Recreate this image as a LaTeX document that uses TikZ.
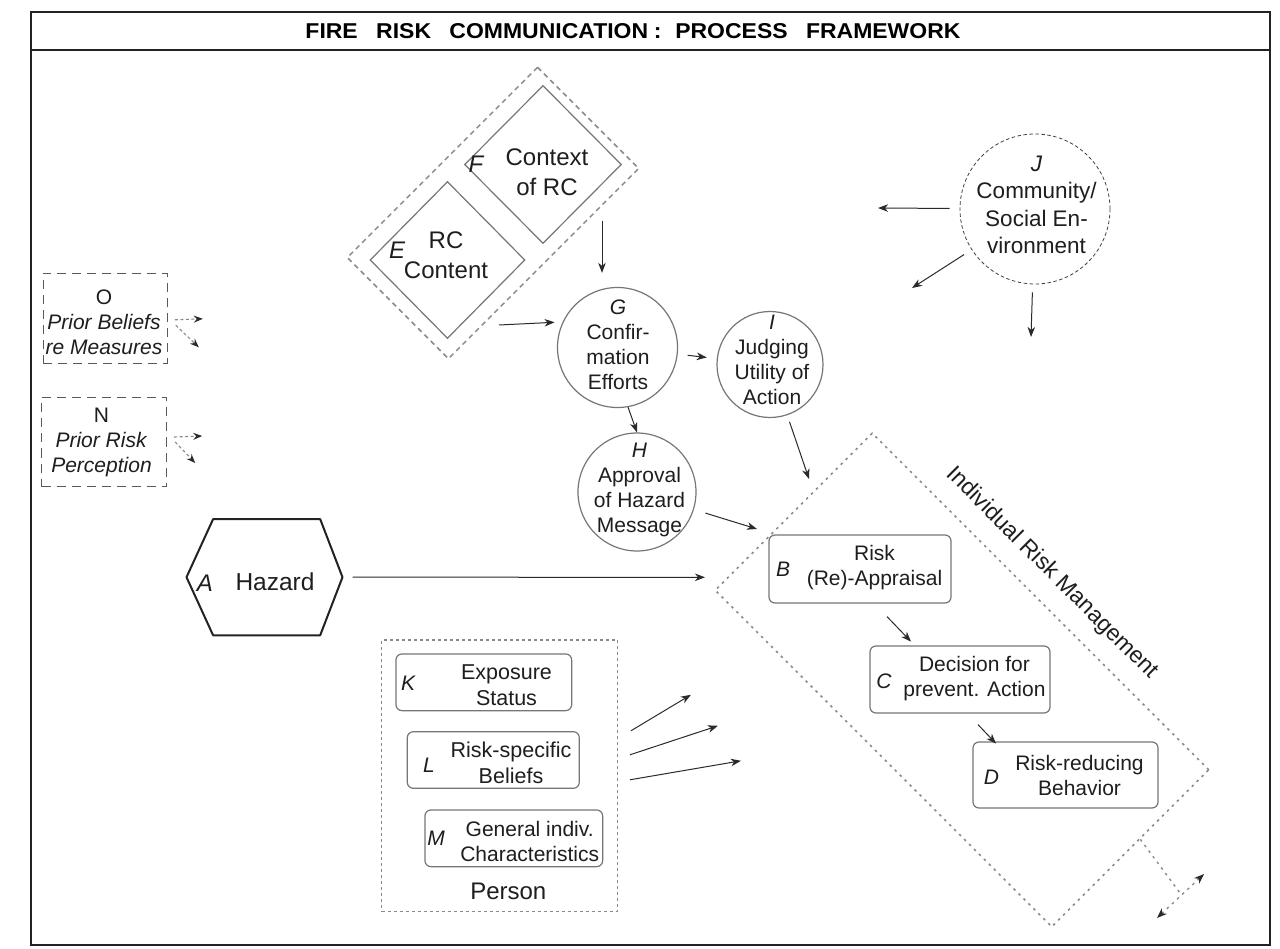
\documentclass[tikz,border=0pt]{standalone}
\usepackage{fontspec}
\setmainfont{Liberation Sans}
\usepackage{graphicx}
\usetikzlibrary{arrows.meta,shapes.geometric,calc}
\definecolor{ink}{HTML}{1E1E1E}
\definecolor{edgegray}{HTML}{767676}
\definecolor{dashgray}{HTML}{8A8A8A}
\definecolor{arrowgray}{HTML}{2A2A2A}
\definecolor{framegray}{HTML}{222222}
\begin{document}
\begin{tikzpicture}[x=1pt,y=-1pt,
  txt/.style={text=ink, align=center, inner sep=0pt, font=\fontsize{21}{25}\selectfont},
  txtbig/.style={txt, font=\fontsize{24}{30}\selectfont},
  lett/.style={text=ink, inner sep=0pt, font=\fontsize{21}{25}\selectfont\itshape},
  lettbig/.style={lett, font=\fontsize{24}{30}\selectfont\itshape},
  circ/.style={draw=edgegray, line width=1.2pt, circle, inner sep=0pt, minimum size=#1},
  rbox/.style 2 args={draw=edgegray, line width=1.2pt, rounded corners=6pt, inner sep=0pt, minimum width=#1, minimum height=#2},
  dia/.style 2 args={draw=edgegray, line width=1.2pt, diamond, inner sep=0pt, minimum width=#1, minimum height=#2},
  arr/.style={draw=arrowgray, line width=1pt, -{Stealth[length=10pt,width=7.5pt,inset=3pt]}},
  darr/.style={draw=dashgray, line width=1.1pt, dash pattern=on 3pt off 2.5pt, -{Stealth[length=9pt,width=7pt,inset=3pt,color=arrowgray]}},
  irmdash/.style={draw=dashgray, line width=1.6pt, dash pattern=on 2.5pt off 4.5pt},
]
\useasboundingbox (0,0) rectangle (1280,949);
\fill[white] (0,0) rectangle (1280,949);

% outer frame and title bar
\draw[framegray, line width=2pt] (31,12) rectangle (1270,945);
\draw[framegray, line width=2pt] (31,50) -- (1270,50);
\node[text=black, inner sep=0pt] (title) at (633,31)
  {\resizebox{655pt}{15pt}{\bfseries FIRE\hspace{0.8em}RISK\hspace{0.8em}COMMUNICATION\hspace{0.25em}:\hspace{0.6em}PROCESS\hspace{0.8em}FRAMEWORK}};

% risk communication content and context
\node[draw=dashgray, line width=1.5pt, dash pattern=on 5pt off 4pt, rotate=45,
      minimum width=269pt, minimum height=143pt, inner sep=0pt] (EF) at (493,213) {};
\node[dia={157pt}{158pt}] (F) at (543,164.5) {};
\node[txtbig] (Ft) at (547,172) {Context\\of RC};
\node[lettbig] (Fl) at (476,164) {F};
\node[dia={155pt}{157pt}] (E) at (447.5,260) {};
\node[txtbig] (Et) at (446,255) {RC\\Content};
\node[lettbig] (El) at (397,250) {E};

% processing circles
\node[circ=120pt] (G) at (617.5,347.5) {};
\node[txt] (Gt) at (618,345) {\textit{G}\\Confir-\\mation\\Efforts};
\node[circ=118pt] (H) at (637,492) {};
\node[txt] (Ht) at (639.5,490) {\textit{H}\\Approval\\of Hazard\\Message};
\node[circ=106pt] (I) at (770,364.5) {};
\node[txt] (It) at (772,360) {\textit{I}\\Judging\\Utility of\\Action};
\node[circle, draw=black!75, line width=0.8pt, dash pattern=on 3.5pt off 2.5pt,
      minimum size=150pt, inner sep=0pt] (J) at (1035,209) {};
\node[txt, font=\fontsize{22.5}{27.5}\selectfont] (Jt) at (1036.5,205)
  {\textit{J}\\Community/\\Social En-\\vironment};

% prior beliefs
\node[draw=black!65, line width=1pt, dash pattern=on 9pt off 6pt,
      minimum width=124pt, minimum height=90pt, inner sep=0pt] (O) at (105.3,318.3) {};
\node[txt] (Ot) at (104,322) {O\\\textit{Prior Beliefs}\\\textit{re Measures}};
\node[draw=black!65, line width=1pt, dash pattern=on 9pt off 6pt,
      minimum width=125pt, minimum height=89pt, inner sep=0pt] (N) at (104.2,442) {};
\node[txt] (Nt) at (101.5,442) {N\\\textit{Prior Risk}\\\textit{Perception}};

% hazard
\node[minimum width=155.6pt, minimum height=115.7pt, inner sep=0pt] (haz) at (264.5,577.2) {};
\draw[framegray, line width=2pt, line join=round]
  (haz.west) -- ([xshift=26.6pt]haz.north west) -- ([xshift=-22.3pt]haz.north east)
  -- (haz.east) -- ([xshift=-22.3pt]haz.south east) -- ([xshift=26.6pt]haz.south west) -- cycle;
\node[txt, font=\fontsize{24.5}{30}\selectfont] (hazt) at (275,582) {Hazard};
\node[lett, font=\fontsize{24}{30}\selectfont\itshape] (hazl) at (205,583) {A};

% person
\node[draw=dashgray, line width=1.2pt, dash pattern=on 3pt off 3pt,
      minimum width=235.6pt, minimum height=271.7pt, inner sep=0pt] (P) at (499.5,775.8) {};
\node[txt, font=\fontsize{24}{30}\selectfont] (Pt) at (508.3,891.7) {Person};
\node[rbox={175.7pt}{56.7pt}] (K) at (483.8,682.3) {};
\node[txt, font=\fontsize{21.5}{26}\selectfont] (Kt) at (506.5,685) {Exposure\\Status};
\node[lett] (Kl) at (408,683) {K};
\node[rbox={172pt}{56.6pt}] (L) at (493.3,760) {};
\node[txt, font=\fontsize{21.5}{26}\selectfont] (Lt) at (511,763) {Risk-specific\\Beliefs};
\node[lett] (Ll) at (429,765) {L};
\node[rbox={177.7pt}{56.7pt}] (M) at (513.8,838.3) {};
\node[txt, font=\fontsize{21}{25}\selectfont] (Mt) at (529.7,841.5) {General indiv.\\Characteristics};
\node[lett] (Ml) at (436,838) {M};

% individual risk management
\node[irmdash, rotate=-45, minimum width=476pt, minimum height=222pt, inner sep=0pt] (IRM) at (962,680) {};
\node[txt, rotate=-45, font=\fontsize{23}{28}\selectfont] (IRMt) at (1052,573) {Individual Risk Management};
\node[rbox={182pt}{68pt}] (B) at (860,569) {};
\node[txt] (Bt) at (874.5,568) {Risk\\(Re)-Appraisal};
\node[lett] (Bl) at (783,569) {B};
\node[rbox={180pt}{67pt}] (C) at (960,679.5) {};
\node[txt] (Ct) at (974.5,678.5) {Decision for\\prevent. Action};
\node[lett] (Cl) at (884,681) {C};
\node[rbox={185pt}{66pt}] (D) at (1065.5,775) {};
\node[txt] (Dt) at (1079.5,775) {Risk-reducing\\Behavior};
\node[lett] (Dl) at (991.5,777) {D};

% free ends of connectors
\coordinate (efout) at (499,325);
\coordinate (fgtop) at (602,221);
\coordinate (hb) at (757,529);
\coordinate (ib) at (809,479);
\coordinate (hzend) at (705,577.3);
\coordinate (j1) at (878,208);
\coordinate (j2) at (912,288);
\coordinate (j3) at (1031,337);
\coordinate (brs) at ($(IRM.north east)!0.44!(IRM.south east)$);
\coordinate (brj) at (1180,893);
\coordinate (bra) at (1157,918);
\coordinate (brb) at (1204,874);

% connectors
\draw[arr, shorten >=8pt] (efout) -- (G.155);
\draw[arr, shorten >=14pt] (fgtop) -- (fgtop |- G.north);
\draw[arr, shorten <=10pt, shorten >=10pt] (G) -- (I);
\draw[arr] (G.-80) -- (H.north);
\draw[arr, shorten <=12pt] (H) -- (hb);
\draw[arr, shorten <=7pt] (I) -- (ib);
\draw[arr, shorten <=10pt] (haz.east) -- (hzend);
\draw[arr, shorten <=10pt] (J) -- (j1);
\draw[arr, shorten <=9pt] (J) -- (j2);
\draw[arr, shorten <=8pt] (J) -- (j3);
\draw[arr] ($(B.south)+(27,13)$) -- ++(24,25);
\draw[arr] ($(C.south)+(18,11)$) -- ++(18,19);
\draw[arr] ($(P.east)+(13,-45)$) -- ++(60,-36);
\draw[arr] ($(P.east)+(12,-21)$) -- ++(88,-29);
\draw[arr] ($(P.east)+(12,4)$) -- ++(111,-19);
\draw[darr] ($(O.east)+(7,1.5)$) -- ++(28,-1);
\draw[darr] ($(O.east)+(8,7)$) -- ++(23,22);
\draw[darr] ($(N.east)+(7,-5)$) -- ++(28,-1);
\draw[darr] ($(N.east)+(8,0)$) -- ++(20,21);
\draw[irmdash, line width=1.4pt] (brs) -- (brj);
\draw[irmdash, line width=1.4pt, {Stealth[length=10pt,width=7.5pt,inset=3pt,color=arrowgray]}-{Stealth[length=10pt,width=7.5pt,inset=3pt,color=arrowgray]}] (bra) -- (brb);
\end{tikzpicture}
\end{document}
